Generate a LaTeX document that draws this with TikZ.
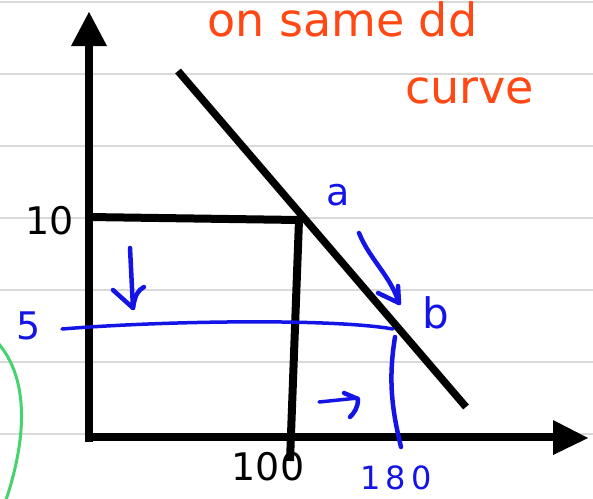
\documentclass[tikz,border=0pt]{standalone}
\usepackage{fontspec}
\setmainfont{DejaVu Sans}
\definecolor{penblue}{RGB}{20,20,230}
\definecolor{penred}{RGB}{255,72,20}
\definecolor{pengreen}{RGB}{70,210,110}
\begin{document}
\begin{tikzpicture}[x=1pt,y=-1pt,
  rule/.style={draw=black!15,line width=2pt},
  axis/.style={draw=black,line width=8.5pt},
  thick line/.style={draw=black,line width=7.5pt},
  pen/.style={draw=penblue,line width=3.5pt,line cap=round,line join=round},
  penthick/.style={pen,line width=4.5pt},
  lbl/.style={inner sep=0pt,font=\fontsize{38}{38}\selectfont},
  bluelbl/.style={lbl,text=penblue},
  redlbl/.style={inner sep=0pt,text=penred,font=\fontsize{46}{46}\selectfont}]
\useasboundingbox (0,0) rectangle (593,498);
\fill[white] (0,0) rectangle (593,498);
\foreach \yy in {2,74,146,218,290,362,434} \draw[rule] (0,\yy) -- (593,\yy);
% green arc
\draw[draw=pengreen,line width=3pt] (-2,343) .. controls (30,380) and (26,440) .. (6,500);
% axes
\coordinate (O) at (89,437);
\coordinate (ytop) at (89,46);
\coordinate (xend) at (553,437);
\draw[axis] (89,442) -- (ytop);
\fill (89,12) -- (71,46) -- (107,46) -- cycle;
\draw[axis] (85,437) -- (xend);
\fill (588,438) -- (553,420) -- (553,455) -- cycle;
% demand line
\coordinate (d1) at (178,71);
\coordinate (d2) at (466,407);
\draw[thick line] (d1) -- (d2);
% price 10 and quantity 100
\coordinate (p10) at (89,217);
\coordinate (pa) at (299,220);
\coordinate (q100) at (290,461);
\draw[axis,line width=8pt] (p10) -- (pa) -- (q100);
\node[lbl] (ten) at (50,221) {10};
\node[lbl] (hundred) at (268,467) {100};
% blue price 5 line
\coordinate (p5) at (62,329);
\coordinate (pb) at (393,329);
\coordinate (q180) at (401,447);
\draw[pen] (p5) .. controls (160,321) and (330,318) .. (pb);
\draw[penthick] (395,337) .. controls (388,380) and (392,410) .. (q180);
\node[bluelbl] (five) at (29,326) {5};
\node[bluelbl,font=\fontsize{32}{32}\selectfont] (oneeighty) at (396,478) {1\,8\,0};
\node[bluelbl] (a) at (338,195) {a};
\node[bluelbl,font=\fontsize{42}{42}\selectfont] (b) at (436,313) {b};
% arrow a -> b
\coordinate (ar1) at (359,233);
\coordinate (ar2) at (399,303);
\draw[penthick] (ar1) .. controls (370,260) and (390,275) .. (ar2) -- (378,293);
\draw[penthick] (ar2) -- (398,286);
% down arrow
\coordinate (dn1) at (130,248);
\coordinate (dn2) at (133,308);
\draw[penthick] (dn1) -- (dn2) -- (113,290);
\draw[penthick] (dn2) .. controls (135,295) and (138,290) .. (144,287);
% right arrow
\coordinate (rt1) at (319,402);
\coordinate (rt2) at (358,398);
\draw[pen] (rt1) -- (rt2);
\draw[penthick] (344,393) -- (358,399) .. controls (358,408) and (354,413) .. (350,417);
% red note
\node[redlbl,anchor=base west] (note1) at (207,36) {on same dd};
\node[redlbl,anchor=base west] (note2) at (405,103) {curve};
\end{tikzpicture}
\end{document}
